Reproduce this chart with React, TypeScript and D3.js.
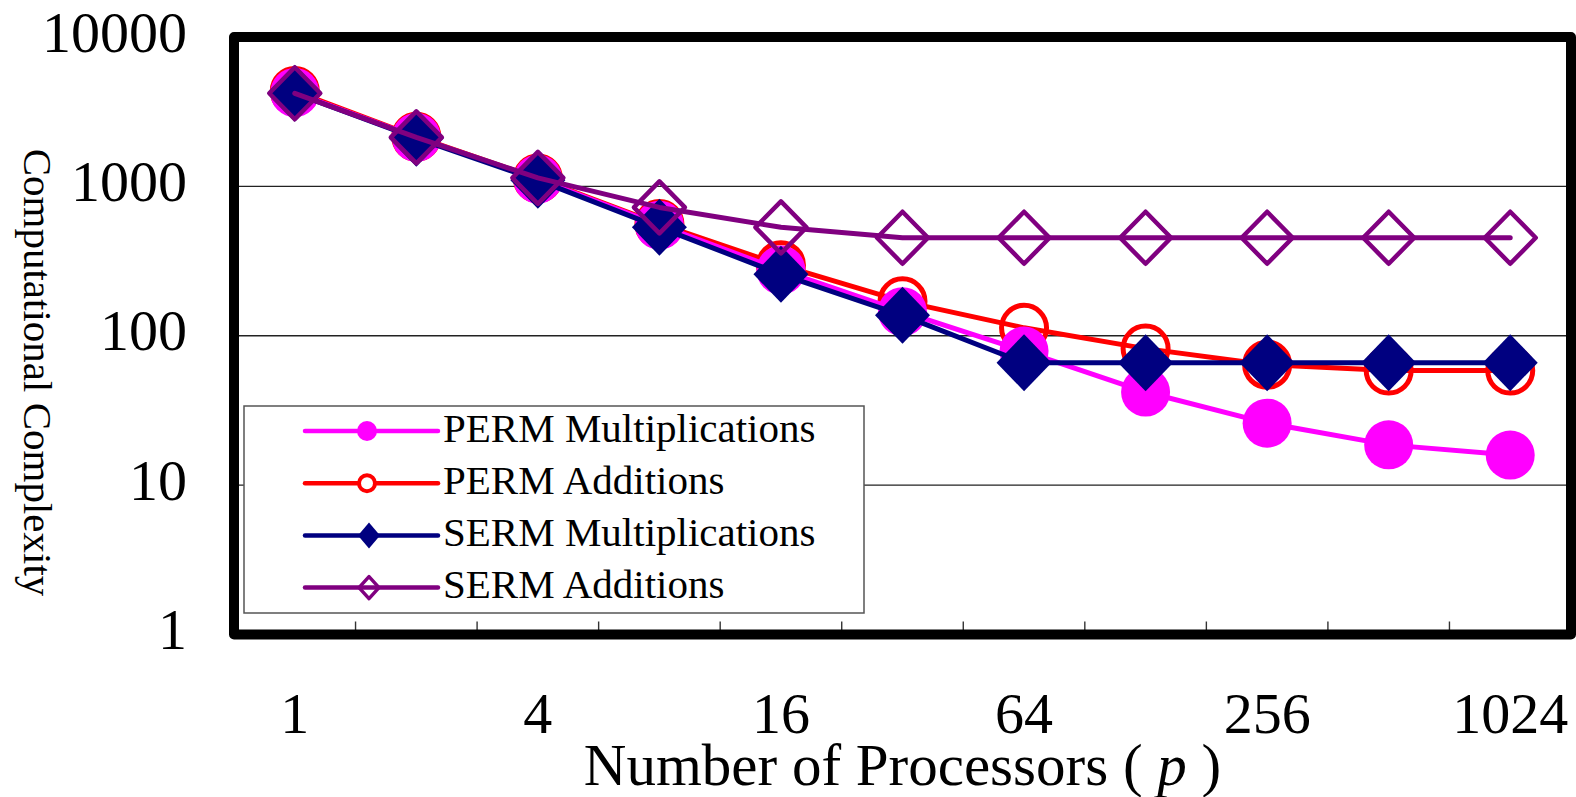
import * as d3 from "d3";

// processors (p) on the x axis, plotted as evenly spaced categories
const processors = ["1", "2", "4", "8", "16", "32", "64", "128", "256", "512", "1024"];
const xTickLabels = ["1", "4", "16", "64", "256", "1024"];
const yTicks = [1, 10, 100, 1000, 10000];

const permMult = [4250, 2130, 1120, 550, 275, 145, 79, 42, 26, 18.6, 15.9];
const permAdd = [4350, 2150, 1130, 560, 297, 170, 113, 82, 64, 58.5, 58.5];
const sermMult = [4200, 2100, 1100, 532, 258, 137, 66, 66, 66, 66, 66];
const sermAdd = [4200, 2130, 1140, 723, 532, 453, 453, 453, 453, 453, 453];

const seriesNames = ["PERM Multiplications", "PERM Additions", "SERM Multiplications", "SERM Additions"];

const W = 1576;
const H = 797;
const FONT = "'Liberation Serif', 'Times New Roman', serif";

const diamond = (cx: number, cy: number, rx: number, ry: number) =>
  `M${cx},${cy - ry}L${cx + rx},${cy}L${cx},${cy + ry}L${cx - rx},${cy}Z`;

export default function App() {
  const left = 234, right = 1571, top = 37, bottom = 634.5;

  const x = d3.scalePoint<string>().domain(processors).range([left, right]).padding(0.5);
  const y = d3.scaleLog().domain([1, 10000]).range([bottom, top]);
  const step = x.step();

  const line = d3
    .line<number>()
    .x((_, i) => x(processors[i])!)
    .y((d) => y(d));

  // drawing order: red, magenta, navy, purple (matches overlap in the original)
  const series = [
    { name: seriesNames[1], data: permAdd, color: "#FF0000", marker: "ring" },
    { name: seriesNames[0], data: permMult, color: "#FF00FF", marker: "dot" },
    { name: seriesNames[2], data: sermMult, color: "#000080", marker: "diamond" },
    { name: seriesNames[3], data: sermAdd, color: "#800080", marker: "odiamond" },
  ];
  const legendOrder = [1, 0, 2, 3];

  const drawMarker = (kind: string, color: string, cx: number, cy: number, small: boolean, key: string) => {
    if (kind === "dot") return <circle key={key} cx={cx} cy={cy} r={small ? 10 : 24.5} fill={color} />;
    if (kind === "ring")
      return <circle key={key} cx={cx} cy={cy} r={small ? 8 : 22.5} fill="white" fillOpacity={small ? 1 : 0} stroke={color} strokeWidth={small ? 4 : 5} />;
    if (kind === "diamond")
      return <path key={key} d={small ? diamond(cx, cy, 11, 13) : diamond(cx, cy, 27.5, 28.5)} fill={color} />;
    return (
      <path key={key} d={small ? diamond(cx, cy, 10, 11) : diamond(cx, cy, 25.5, 26)} fill="none" stroke={color} strokeWidth={small ? 3.5 : 4.5} strokeLinejoin="round" />
    );
  };

  const legX = 244, legY = 406, legW = 620, legH = 207;
  const rowY = (i: number) => 431 + i * 52.2;

  return (
    <div style={{ position: "absolute", left: 0, top: 0 }}>
      <svg width={W} height={H} style={{ display: "block", background: "white" }} fontFamily={FONT}>
        {/* gridlines */}
        {yTicks.slice(1, -1).map((t) => (
          <line key={t} x1={left} x2={right} y1={y(t)} y2={y(t)} stroke="#222" strokeWidth={1.4} />
        ))}

        {/* tick marks between categories */}
        {processors.slice(0, -1).map((p) => (
          <line key={p} x1={x(p)! + step / 2} x2={x(p)! + step / 2} y1={bottom} y2={bottom - 13} stroke="#333" strokeWidth={1.4} />
        ))}

        {/* series */}
        {series.map((s) => (
          <g key={s.name}>
            <path d={line(s.data)!} fill="none" stroke={s.color} strokeWidth={5} strokeLinejoin="round" strokeLinecap="round" />
            {s.data.map((v, i) => drawMarker(s.marker, s.color, x(processors[i])!, y(v), false, s.name + i))}
          </g>
        ))}

        {/* legend */}
        <rect x={legX} y={legY} width={legW} height={legH} fill="white" stroke="#555" strokeWidth={1.5} />
        {legendOrder.map((si, row) => {
          const s = series[si];
          const cy = rowY(row);
          const mx = s.marker === "dot" || s.marker === "ring" ? 367 : 369;
          return (
            <g key={s.name}>
              <line x1={305} x2={438} y1={cy} y2={cy} stroke={s.color} strokeWidth={4.5} strokeLinecap="round" />
              {drawMarker(s.marker, s.color, mx, cy, true, "leg" + row)}
              <text x={443} y={cy} dy="0.26em" fontSize={41} fill="black">
                {s.name}
              </text>
            </g>
          );
        })}

        {/* frame */}
        <rect x={left} y={top} width={right - left} height={bottom - top} fill="none" stroke="black" strokeWidth={10} strokeLinejoin="round" />

        {/* y tick labels */}
        {yTicks.map((t) => (
          <text key={t} x={187} y={y(t) + 14.7} textAnchor="end" fontSize={58} fill="black">
            {d3.format("d")(t)}
          </text>
        ))}

        {/* x tick labels */}
        {xTickLabels.map((p) => (
          <text key={p} x={x(p)!} y={733} textAnchor="middle" fontSize={58} fill="black">
            {p}
          </text>
        ))}

        {/* axis titles */}
        <text x={(left + right) / 2} y={785} textAnchor="middle" fontSize={59} fill="black">
          Number of Processors ( <tspan fontStyle="italic">p</tspan> )
        </text>
        <text transform={`translate(24,372.5) rotate(90)`} textAnchor="middle" fontSize={41} fill="black">
          Computational Complexity
        </text>
      </svg>
    </div>
  );
}
